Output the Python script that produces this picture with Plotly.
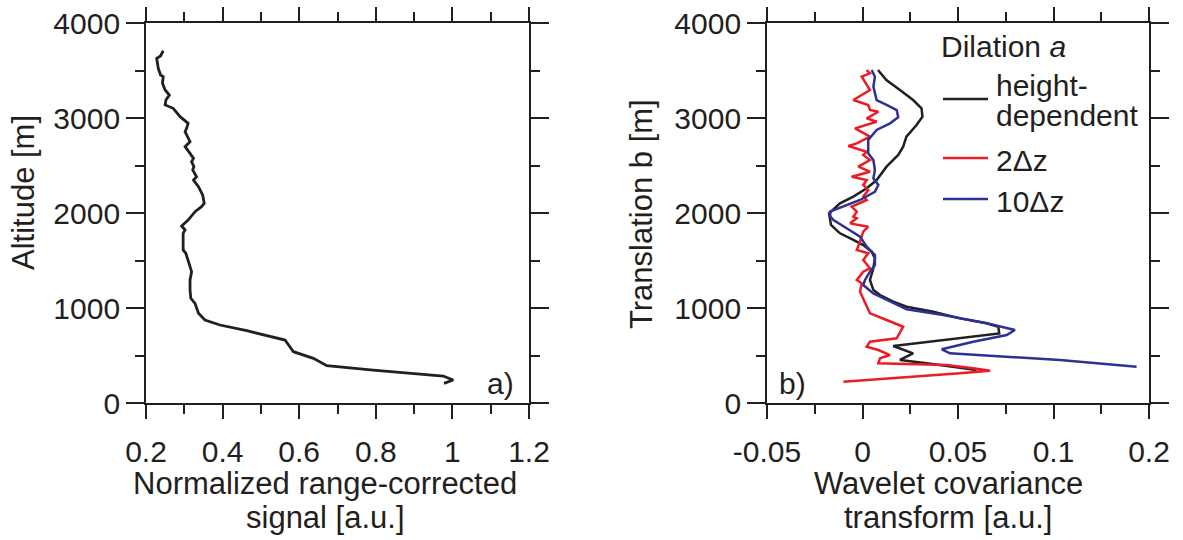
import plotly.graph_objects as go

# ---- panel a: normalized range-corrected signal ----
sig_x = [0.245, 0.238, 0.228, 0.232, 0.238, 0.245, 0.243, 0.250, 0.261, 0.252, 0.250, 0.271,
         0.289, 0.310, 0.306, 0.302, 0.315, 0.302, 0.315, 0.324, 0.319, 0.325, 0.322, 0.332,
         0.324, 0.337, 0.348, 0.352, 0.345, 0.328, 0.310, 0.293, 0.302, 0.297, 0.297, 0.304,
         0.315, 0.319, 0.315, 0.315, 0.317, 0.328, 0.337, 0.354, 0.393, 0.463, 0.563, 0.585,
         0.637, 0.672, 0.793, 0.976, 1.002, 0.978]
sig_alt = [3708, 3653, 3628, 3523, 3453, 3435, 3365, 3295, 3242, 3189, 3137, 3102,
           3014, 2944, 2891, 2856, 2751, 2698, 2628, 2575, 2540, 2488, 2453, 2382,
           2347, 2277, 2189, 2102, 2066, 2014, 1926, 1863, 1821, 1786, 1611, 1576,
           1435, 1382, 1295, 1189, 1102, 1049, 944, 874, 821, 761, 663, 540,
           470, 393, 347, 284, 242, 207]

# ---- panel b: wavelet covariance transform ----
hd_x = [0.0081, 0.0125, 0.0196, 0.0265, 0.0309, 0.0314, 0.0283, 0.0230, 0.0213, 0.0187,
        0.0126, 0.0074, 0.0022, -0.0048, -0.0118, -0.0175, -0.0165, -0.0118, -0.0048, 0.0004,
        0.0048, 0.0065, 0.0057, 0.0039, 0.0057, 0.0092, 0.0161, 0.0231, 0.0371, 0.0510,
        0.0650, 0.0711, 0.0716, 0.0510, 0.0336, 0.0161, 0.0265, 0.0196, 0.0336, 0.0545,
        0.0598]
hd_b = [3505, 3400, 3295, 3189, 3102, 3014, 2926, 2803, 2698, 2611,
        2488, 2347, 2260, 2172, 2102, 1996, 1874, 1786, 1716, 1663,
        1593, 1523, 1418, 1295, 1189, 1137, 1066, 1014, 961, 891,
        839, 803, 733, 681, 645, 600, 523, 453, 418, 365,
        347]

d2_x = [0.0022, 0.0039, -0.0004, 0.0039, -0.0048, 0.0030, 0.0039, 0.0083, 0.0022, 0.0074,
        -0.0039, 0.0039, -0.0030, -0.0074, 0.0022, 0.0004, 0.0039, -0.0022, 0.0039, -0.0057,
        0.0022, 0.0004, 0.0030, 0.0004, 0.0022, -0.0013, -0.0057, -0.0030, -0.0048, -0.0030,
        -0.0065, 0.0030, 0.0004, -0.0013, -0.0030, 0.0030, 0.0004, 0.0039, 0.0004, -0.0030,
        -0.0004, -0.0013, 0.0004, 0.0022, 0.0039, 0.0126, 0.0213, 0.0179, 0.0039, 0.0022,
        0.0083, 0.0144, 0.0092, 0.0083, 0.0441, 0.0580, 0.0668, 0.0510, -0.0100]
d2_b = [3505, 3470, 3435, 3295, 3189, 3137, 3084, 3066, 2997, 2961,
        2891, 2803, 2733, 2705, 2645, 2611, 2558, 2488, 2435, 2382,
        2347, 2295, 2242, 2172, 2137, 2102, 2066, 2014, 1961, 1944,
        1891, 1856, 1804, 1698, 1611, 1576, 1505, 1418, 1382, 1295,
        1260, 1172, 1102, 1014, 944, 874, 803, 681, 645, 593,
        558, 505, 470, 418, 400, 365, 340, 312, 224]

d10_x = [0.0048, 0.0065, 0.0057, 0.0074, 0.0126, 0.0179, 0.0187, 0.0144, 0.0074, 0.0030,
         0.0030, 0.0057, 0.0065, 0.0057, 0.0083, 0.0065, -0.0013, -0.0100, -0.0170, -0.0168,
         -0.0152, -0.0083, -0.0013, 0.0022, 0.0065, 0.0065, 0.0039, 0.0013, 0.0004, 0.0057,
         0.0161, 0.0231, 0.0423, 0.0650, 0.0798, 0.0755, 0.0580, 0.0415, 0.0458, 0.0685,
         0.1034, 0.1435]
d10_b = [3505, 3435, 3330, 3189, 3137, 3084, 3007, 2944, 2874, 2768,
         2628, 2558, 2453, 2365, 2295, 2224, 2137, 2066, 2014, 1961,
         1926, 1839, 1751, 1646, 1558, 1453, 1382, 1295, 1242, 1154,
         1049, 986, 926, 839, 768, 716, 645, 565, 523, 495,
         453, 382]

x1_ticks = [0.2, 0.4, 0.6, 0.8, 1.0, 1.2]
x2_tickvals = [-0.05, 0.0, 0.05, 0.1, 0.15]
x2_ticktext = ["-0.05", "0", "0.05", "0.1", "0.2"]

legend_title = "Dilation <i>a</i>"
legend_labels = [["height-", "dependent"], ["2Δz"], ["10Δz"]]

W, H = 1183, 540
FONT = "Liberation Sans, Arial, sans-serif"
TXT = "#231f20"
BLACK = "#231f20"
RED = "#ed1c24"
BLUE = "#2e3192"
FS = 30
TFS = 31

fig = go.Figure()
fig.add_trace(go.Scatter(x=sig_x, y=sig_alt, mode="lines", line=dict(color=BLACK, width=2.8),
                         xaxis="x", yaxis="y", showlegend=False))
fig.add_trace(go.Scatter(x=hd_x, y=hd_b, mode="lines", line=dict(color=BLACK, width=2.5),
                         xaxis="x2", yaxis="y2", showlegend=False))
fig.add_trace(go.Scatter(x=d2_x, y=d2_b, mode="lines", line=dict(color=RED, width=2.5),
                         xaxis="x2", yaxis="y2", showlegend=False))
fig.add_trace(go.Scatter(x=d10_x, y=d10_b, mode="lines", line=dict(color=BLUE, width=2.5),
                         xaxis="x2", yaxis="y2", showlegend=False))

ydom = [1 - 403 / H, 1 - 23 / H]
LW = 1.8
common = dict(showline=True, linecolor=BLACK, linewidth=LW, mirror="ticks", ticks="outside",
              tickcolor=BLACK, tickwidth=LW, showgrid=False, zeroline=False, automargin=False,
              tickfont=dict(family=FONT, size=FS, color=TXT))
minor_common = dict(ticklen=9, tickcolor=BLACK, tickwidth=LW, ticks="outside")

fig.update_layout(
    width=W, height=H, margin=dict(l=0, r=0, t=0, b=0, pad=0, autoexpand=False),
    paper_bgcolor="white", plot_bgcolor="white", showlegend=False,
    font=dict(family=FONT, size=FS, color=TXT),
    xaxis=dict(domain=[146 / W, 529 / W], range=[0.2, 1.2], tickvals=x1_ticks, ticklen=14,
               ticklabelstandoff=7,
               minor=dict(dtick=0.1, **minor_common), anchor="y", **common),
    yaxis=dict(domain=ydom, range=[0, 4000], dtick=1000, ticklen=18,
               minor=dict(dtick=500, **minor_common), anchor="x", **common),
    xaxis2=dict(domain=[767 / W, 1149 / W], range=[-0.05, 0.15], tickvals=x2_tickvals,
                ticktext=x2_ticktext, ticklen=14, ticklabelstandoff=7,
                minor=dict(tickvals=[-0.025, 0.025, 0.075, 0.125], **minor_common),
                anchor="y2", **common),
    yaxis2=dict(domain=ydom, range=[0, 4000], dtick=1000, ticklen=18,
                minor=dict(dtick=500, **minor_common), anchor="x2", **common),
)

ann = [
    dict(text="Normalized range-corrected", x=325 / W, y=1 - 483 / H),
    dict(text="signal [a.u.]", x=325 / W, y=1 - 517 / H),
    dict(text="Wavelet covariance", x=948 / W, y=1 - 483 / H),
    dict(text="transform [a.u.]", x=948 / W, y=1 - 517 / H),
    dict(text="Altitude [m]", x=23 / W, y=1 - 193 / H, textangle=-90),
    dict(text="Translation b [m]", x=641 / W, y=1 - 214 / H, textangle=-90),
]
for a in ann:
    fig.add_annotation(xref="paper", yref="paper", showarrow=False,
                       xanchor="center", yanchor="middle",
                       font=dict(family=FONT, size=TFS, color=TXT), **a)

for txt, px, py in [("a)", 500, 383), ("b)", 792, 383)]:
    fig.add_annotation(xref="paper", yref="paper", showarrow=False, text=txt,
                       x=px / W, y=1 - py / H, xanchor="center", yanchor="middle",
                       font=dict(family=FONT, size=FS, color=TXT))

# hand-built legend (keys + labels)
fig.add_annotation(xref="paper", yref="paper", showarrow=False, text=legend_title,
                   x=939 / W, y=1 - 47 / H, xanchor="left", yanchor="middle",
                   font=dict(family=FONT, size=FS, color=TXT))
key_y = [99, 158, 199]
label_y = [[86, 116], [160], [202]]
for color, ky, labs, lys in zip([BLACK, RED, BLUE], key_y, legend_labels, label_y):
    fig.add_shape(type="line", xref="paper", yref="paper",
                  x0=943 / W, x1=988 / W, y0=1 - ky / H, y1=1 - ky / H,
                  line=dict(color=color, width=2.5))
    for lab, ly in zip(labs, lys):
        fig.add_annotation(xref="paper", yref="paper", showarrow=False, text=lab,
                           x=994 / W, y=1 - ly / H, xanchor="left", yanchor="middle",
                           font=dict(family=FONT, size=FS, color=TXT))

fig.write_html("out.html")
